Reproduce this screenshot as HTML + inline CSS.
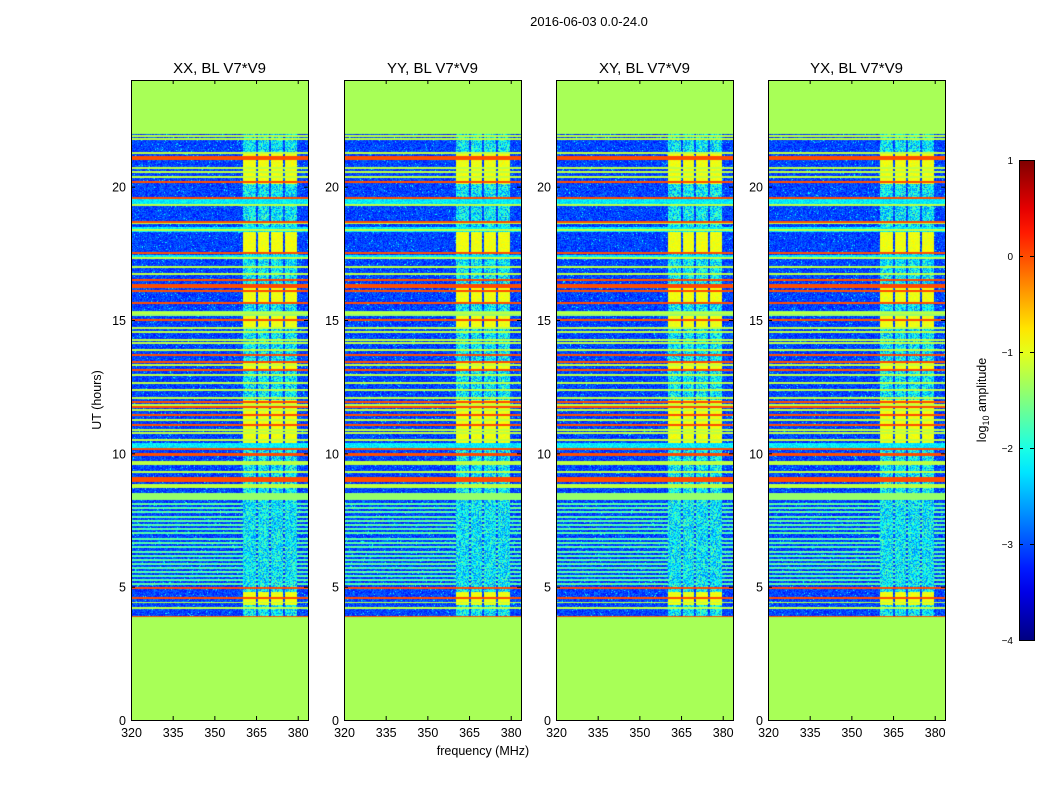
<!DOCTYPE html>
<html><head><meta charset="utf-8"><style>
body{margin:0;background:#fff;width:1050px;height:800px;overflow:hidden;font-family:"Liberation Sans",sans-serif}
canvas{position:absolute}
svg{position:absolute;left:0;top:0}
</style></head><body>
<div id="root"></div>
<svg id="ov" width="1050" height="800"></svg>
<script>
const panelTitles=["XX, BL V7*V9","YY, BL V7*V9","XY, BL V7*V9","YX, BL V7*V9"];
const panelLefts=[131,344,556,768];
const xTicks=[320,335,350,365,380];
const yTicks=[0,5,10,15,20];
const cbTicks=[1,0,-1,-2,-3,-4];
const noData=[[0,3.85],[21.97,24]];
const orangeLines=[21.11,21.04,20.18,19.58,18.68,17.51,16.5,16.31,16.24,16.09,15.64,15.0,13.69,13.43,13.13,11.93,11.74,11.44,11.06,10.16,4.95,4.58];
const thickOrange=[[9.9,10.02],[8.92,9.1],[3.8,3.9]];
const greenLines=[21.9,21.79,21.26,20.7,20.55,20.36,19.31,18.64,18.38,17.33,16.99,16.73,15.26,14.7,14.55,14.25,14.14,13.88,13.31,12.94,12.64,12.38,12.08,11.81,11.63,11.25,10.88,10.76,10.5,9.68,9.6,9.3,8.81,8.74,4.4,4.2];
const cyanBands=[[19.31,19.54],[18.3,18.49],[17.33,17.44],[10.16,10.39]];
const greenBands=[[15.15,15.34],[8.25,8.5]];
const stripeHours=[8.1,7.95,7.8,7.6,7.45,7.3,7.15,7.0,6.8,6.65,6.5,6.3,6.15,6.0,5.85,5.7,5.55,5.4,5.25,5.1];
const columns=[[360.3,365],[365.7,369.6],[370.4,374.7],[375.4,379.7]];
const blocks=[[20.1,21.3],[17.5,18.3],[15.6,16.2],[14.7,15.2],[13.1,13.4],[10.4,12.0],[4.3,4.8]];

const PT=80,PH=640,PW=177;
const yScale=h=>PT+PH-h/24*PH;
const xScaleRel=f=>(f-320)/(63.7)*PW;
const hFromRow=r=>(PH-r-0.5)/PH*24;
const fFromCol=c=>320+(c+0.5)/PW*63.7;
function jet(v){let t=(v+4)/5;t=Math.max(0,Math.min(1,t));
 const c=x=>Math.round(255*Math.max(0,Math.min(1,x)));
 return [c(1.5-Math.abs(4*t-3)),c(1.5-Math.abs(4*t-2)),c(1.5-Math.abs(4*t-1))];}
function hash(x,y,p){let n=(x*374761393+y*668265263+p*2147483647)|0;n=(n^(n>>>13))*1274126177|0;n=n^(n>>>16);return ((n>>>0)%10000)/10000-0.5;}
const inR=(h,r)=>h>=r[0]&&h<r[1];
const near=(h,c,w)=>Math.abs(h-c)<w;

const root=document.getElementById('root');
panelLefts.forEach((L,p)=>{
 const cv=document.createElement('canvas');
 
 
 cv.width=PW;cv.height=PH;cv.style.left=L+'px';cv.style.top=PT+'px';
 root.appendChild(cv);
 const ctx=cv.getContext('2d');const img=ctx.createImageData(PW,PH);
 for(let r=0;r<PH;r++){const h=hFromRow(r);
  for(let c=0;c<PW;c++){const f=fFromCol(c);const n=hash(c,r,p);
   let v;
   if(noData.some(d=>inR(h,d)))v=-1.3;
   else{
    v=-3.05+n*0.6+(Math.abs(n)>0.48?0.7:0);
    if(h>5&&h<8.2&&stripeHours.some(s=>near(h,s,0.04)))v=-1.7+n*0.4;
    if(columns.some(k=>f>=k[0]&&f<k[1])){
      v=-2.2+n*1.3;
      if(blocks.some(b=>inR(h,b)))v=-0.95+n*0.3;
    }
    if(cyanBands.some(b=>inR(h,b)))v=-2.2+n*0.5;
    if(greenBands.some(b=>inR(h,b)))v=-1.4;
    if(greenLines.some(s=>near(h,s,0.025)))v=-1.2;
    if(orangeLines.some(s=>near(h,s,0.025)))v=0.0;
    if(thickOrange.some(b=>inR(h,b)))v=0.0;
   }
   const col=jet(v);const i=(r*PW+c)*4;
   img.data[i]=col[0];img.data[i+1]=col[1];img.data[i+2]=col[2];img.data[i+3]=255;}}
 ctx.putImageData(img,0,0);
});

const NS='http://www.w3.org/2000/svg';const ov=document.getElementById('ov');
function mk(t,a,txt){const e=document.createElementNS(NS,t);for(const k in a)e.setAttribute(k,a[k]);if(txt!=null)e.textContent=txt;ov.appendChild(e);return e;}
let e=mk('text',{x:589,y:26,'font-size':13,'text-anchor':'middle'},'2016-06-03 0.0-24.0');


panelLefts.forEach((L,p)=>{
 let t=mk('text',{x:L+PW/2,y:73,'font-size':15,'text-anchor':'middle'},panelTitles[p]);
 
 
 let fr=mk('rect',{x:L+0.5,y:PT+0.5,width:PW,height:PH,fill:'none',stroke:'#000','stroke-width':1});
 
 
 xTicks.forEach(v=>{const x=L+xScaleRel(v)+0.5;
  mk('line',{x1:x,x2:x,y1:PT+PH,y2:PT+PH-4,stroke:'#000'});
  mk('line',{x1:x,x2:x,y1:PT,y2:PT+4,stroke:'#000'});
  let l=mk('text',{x:x,y:PT+PH+17,'font-size':12.5,'text-anchor':'middle'},String(v));
  
  });
 yTicks.forEach(v=>{const y=yScale(v)+0.5;
  mk('line',{x1:L,x2:L+4,y1:y,y2:y,stroke:'#000'});
  mk('line',{x1:L+PW,x2:L+PW-4,y1:y,y2:y,stroke:'#000'});
  let l=mk('text',{x:L-5,y:y+4.5,'font-size':12.5,'text-anchor':'end'},String(v));
  
  });
});
e=mk('text',{x:483,y:755,'font-size':12.5,'text-anchor':'middle'},'frequency (MHz)');


e=mk('text',{x:0,y:0,'font-size':12.5,'text-anchor':'middle',transform:'translate(101,400) rotate(-90)'},'UT (hours)');


const CBX=1019,CBT=160,CBH=480,CBW=15;
const defs=mk('defs',{});const g=document.createElementNS(NS,'linearGradient');
g.setAttribute('id','jg');g.setAttribute('x1','0');g.setAttribute('y1','1');g.setAttribute('x2','0');g.setAttribute('y2','0');defs.appendChild(g);
for(let i=0;i<=20;i++){const v=-4+i*5/20;const c=jet(v);const s=document.createElementNS(NS,'stop');
 s.setAttribute('offset',(i/20));s.setAttribute('stop-color','rgb('+c.join(',')+')');g.appendChild(s);}
e=mk('rect',{x:CBX+0.5,y:CBT+0.5,width:CBW,height:CBH,fill:'url(#jg)',stroke:'#000'});


cbTicks.forEach(v=>{const y=CBT+(1-v)/5*CBH+0.5;
 mk('line',{x1:CBX,x2:CBX+4,y1:y,y2:y,stroke:'#000'});
 mk('line',{x1:CBX+CBW,x2:CBX+CBW-4,y1:y,y2:y,stroke:'#000'});
 let l=mk('text',{x:CBX-6,y:y+3.5,'font-size':10,'text-anchor':'end'},v<0?'\u2212'+(-v):String(v));
 
 });
e=mk('text',{x:0,y:0,'font-size':12.5,'text-anchor':'middle',transform:'translate(986,400) rotate(-90)'});
e.innerHTML='log<tspan font-size="9" dy="3">10</tspan><tspan dy="-3"> amplitude</tspan>';


</script>
</body></html>
